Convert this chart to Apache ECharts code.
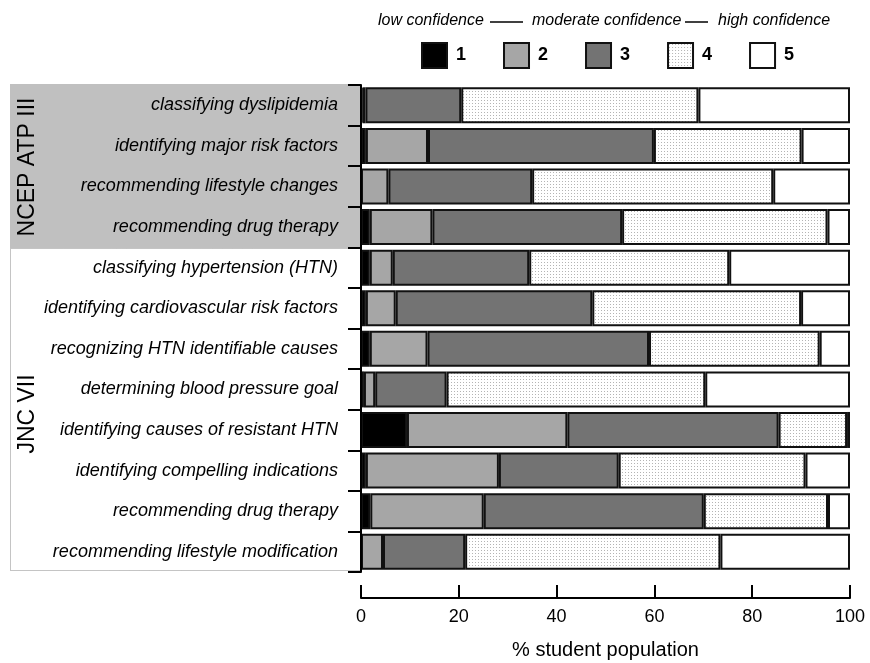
<!DOCTYPE html>
<html>
<head>
<meta charset="utf-8">
<script src="https://cdn.jsdelivr.net/npm/echarts@6/dist/echarts.min.js"></script>
<style>html,body{margin:0;padding:0;background:#fff}#c{width:870px;height:663px}</style>
</head>
<body>
<div id="c"></div>
<script>
var categories = [
  'classifying dyslipidemia',
  'identifying major risk factors',
  'recommending lifestyle changes',
  'recommending drug therapy',
  'classifying hypertension (HTN)',
  'identifying cardiovascular risk factors',
  'recognizing HTN identifiable causes',
  'determining blood pressure goal',
  'identifying causes of resistant HTN',
  'identifying compelling indications',
  'recommending drug therapy ',
  'recommending lifestyle modification'
];
var seriesNames = ['1', '2', '3', '4', '5'];
var s1 = [0.3, 1.0, 0, 1.8, 1.8, 1.0, 1.8, 0.6, 9.4, 1.0, 1.9, 0];
var s2 = [0.6, 12.7, 5.6, 12.8, 4.7, 6.1, 11.8, 2.3, 32.8, 27.2, 23.2, 4.5];
var s3 = [19.6, 46.2, 29.4, 38.8, 27.9, 40.2, 45.3, 14.6, 43.2, 24.5, 45.0, 16.8];
var s4 = [48.5, 30.2, 49.3, 42.0, 40.9, 42.7, 34.9, 52.9, 14.0, 38.2, 25.4, 52.2];
var s5 = [31.0, 9.9, 15.7, 4.6, 24.7, 10.0, 6.2, 29.6, 0.6, 9.1, 4.5, 26.5];
var xTicks = [0, 20, 40, 60, 80, 100];
var groupNames = ['NCEP ATP III', 'JNC VII'];
var scaleWords = ['low confidence', 'moderate confidence', 'high confidence'];

var FONT = "'Liberation Sans', Arial, sans-serif";

// dotted pattern
var pc = document.createElement('canvas');
pc.width = 3; pc.height = 3;
var pctx = pc.getContext('2d');
pctx.fillStyle = '#ffffff'; pctx.fillRect(0, 0, 3, 3);
pctx.fillStyle = '#b4b4b4'; pctx.fillRect(1, 1, 1, 1);
var dotPattern = { image: pc, repeat: 'repeat' };

var fills = ['#000000', '#a6a6a6', '#737373', dotPattern, '#ffffff'];
var dataSets = [s1, s2, s3, s4, s5];

var series = seriesNames.map(function (n, i) {
  return {
    name: n,
    type: 'bar',
    stack: 'total',
    barWidth: 36,
    data: dataSets[i],
    itemStyle: { color: fills[i], borderColor: '#111', borderWidth: 2 },
    emphasis: { disabled: true }
  };
});

var chart = echarts.init(document.getElementById('c'));
chart.setOption({
  animation: false,
  backgroundColor: '#ffffff',
  textStyle: { fontFamily: FONT },
  legend: {
    data: seriesNames,
    left: 416, top: 37,
    itemWidth: 25, itemHeight: 25,
    itemGap: 37,
    icon: 'rect',
    selectedMode: false,
    textStyle: { fontFamily: FONT, fontWeight: 'bold', fontSize: 18, color: '#000', padding: [0, 0, 0, 4] }
  },
  grid: { left: 361, width: 489, top: 85, height: 487, containLabel: false, outerBoundsMode: 'none' },
  xAxis: {
    type: 'value', min: 0, max: 100, interval: 20,
    offset: 26,
    axisLine: { show: true, lineStyle: { color: '#000', width: 2 } },
    axisTick: { show: true, inside: true, length: 13, lineStyle: { color: '#000', width: 2 } },
    axisLabel: { fontSize: 18, color: '#000', margin: 10, fontFamily: FONT,
      formatter: function (v) { return xTicks.indexOf(v) >= 0 ? String(v) : ''; } },
    splitLine: { show: false },
    name: '% student population',
    nameLocation: 'middle', nameGap: 42,
    nameTextStyle: { fontSize: 20, color: '#000', fontFamily: FONT }
  },
  yAxis: {
    type: 'category', data: categories, inverse: true,
    axisLine: { show: true, lineStyle: { color: '#000', width: 2 } },
    axisTick: { show: true, length: 13, lineStyle: { color: '#000', width: 2 } },
    axisLabel: { fontSize: 18, fontStyle: 'italic', color: '#000', margin: 23, fontFamily: FONT,
      formatter: function (v) { return String(v).trim(); } },
    z: 5
  },
  graphic: [
    { type: 'rect', z: -10, shape: { x: 10, y: 84, width: 350, height: 164 }, style: { fill: '#c0c0c0' } },
    { type: 'rect', z: -10, shape: { x: 10.5, y: 248.5, width: 350, height: 322 }, style: { fill: 'none', stroke: '#888', lineWidth: 1, lineDash: [1, 1] } },
    { type: 'text', z: 10, x: 28, y: 167, rotation: Math.PI / 2,
      style: { text: groupNames[0], fontSize: 23, fontFamily: FONT, fill: '#000', textAlign: 'center', textVerticalAlign: 'middle' } },
    { type: 'text', z: 10, x: 28, y: 414, rotation: Math.PI / 2,
      style: { text: groupNames[1], fontSize: 23, fontFamily: FONT, fill: '#000', textAlign: 'center', textVerticalAlign: 'middle' } },
    { type: 'text', x: 378, y: 21, style: { text: scaleWords[0], fontSize: 16, fontStyle: 'italic', fontFamily: FONT, fill: '#000', textAlign: 'left', textVerticalAlign: 'middle' } },
    { type: 'line', shape: { x1: 490, y1: 22, x2: 523, y2: 22 }, style: { stroke: '#000', lineWidth: 1.5 } },
    { type: 'text', x: 532, y: 21, style: { text: scaleWords[1], fontSize: 16, fontStyle: 'italic', fontFamily: FONT, fill: '#000', textAlign: 'left', textVerticalAlign: 'middle' } },
    { type: 'line', shape: { x1: 685, y1: 22, x2: 708, y2: 22 }, style: { stroke: '#000', lineWidth: 1.5 } },
    { type: 'text', x: 718, y: 21, style: { text: scaleWords[2], fontSize: 16, fontStyle: 'italic', fontFamily: FONT, fill: '#000', textAlign: 'left', textVerticalAlign: 'middle' } }
  ],
  series: series
});
</script>
</body>
</html>
